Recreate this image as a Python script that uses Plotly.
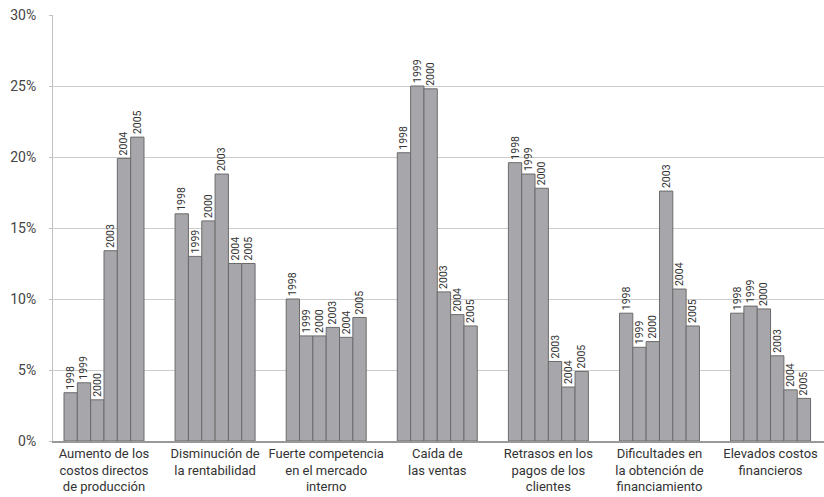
import plotly.graph_objects as go

categories = [
    "Aumento de los<br>costos directos<br>de producción",
    "Disminución de<br>la rentabilidad",
    "Fuerte competencia<br>en el mercado<br>interno",
    "Caída de<br>las ventas",
    "Retrasos en los<br>pagos de los<br>clientes",
    "Dificultades en<br>la obtención de<br>financiamiento",
    "Elevados costos<br>financieros",
]
years = ["1998", "1999", "2000", "2003", "2004", "2005"]

# Percentage of firms citing each problem, by year (rows follow `years`)
v1998 = [3.4, 16.0, 10.0, 20.3, 19.6, 9.0, 9.0]
v1999 = [4.1, 13.0, 7.4, 25.0, 18.8, 6.6, 9.5]
v2000 = [2.9, 15.5, 7.4, 24.8, 17.8, 7.0, 9.3]
v2003 = [13.4, 18.8, 8.0, 10.5, 5.6, 17.6, 6.0]
v2004 = [19.9, 12.5, 7.3, 8.9, 3.8, 10.7, 3.6]
v2005 = [21.4, 12.5, 8.7, 8.1, 4.9, 8.1, 3.0]
series = [v1998, v1999, v2000, v2003, v2004, v2005]

y_ticks = [0, 5, 10, 15, 20, 25, 30]

FONT = "Roboto, Liberation Sans, sans-serif"

fig = go.Figure()
for year, vals in zip(years, series):
    fig.add_trace(go.Bar(
        x=categories,
        y=vals,
        name=year,
        text=[year] * len(vals),
        textposition="outside",
        textangle=-90,
        constraintext="none",
        cliponaxis=False,
        textfont=dict(family=FONT, size=10.5, color="#333333"),
        marker=dict(color="#a7a7ab", line=dict(color="#6b6b6b", width=1)),
        hoverinfo="x+y+name",
    ))

fig.update_layout(
    width=824,
    height=497,
    margin=dict(l=53, r=0, t=15, b=56, autoexpand=False),
    paper_bgcolor="white",
    plot_bgcolor="white",
    barmode="group",
    bargap=0.28,
    bargroupgap=0,
    showlegend=False,
    font=dict(family=FONT, color="#333333"),
)
fig.update_xaxes(
    range=[-0.459, 6.481],
    showline=True,
    linecolor="#999999",
    linewidth=2,
    ticks="",
    tickangle=0,
    automargin=False,
    ticklabelstandoff=-1,
    tickfont=dict(family=FONT, size=13, color="#333333"),
    showgrid=False,
)
fig.update_yaxes(
    range=[0, 30],
    tickvals=y_ticks,
    ticktext=[f"{t}%" for t in y_ticks],
    showline=True,
    linecolor="#c0c0c0",
    linewidth=1,
    showgrid=True,
    gridcolor="#cccccc",
    gridwidth=1,
    ticks="outside",
    ticklen=3,
    tickcolor="#c0c0c0",
    automargin=False,
    tickfont=dict(family=FONT, size=14, color="#444444"),
    ticklabelstandoff=10,
    zeroline=False,
)

fig.write_html("out.html")
